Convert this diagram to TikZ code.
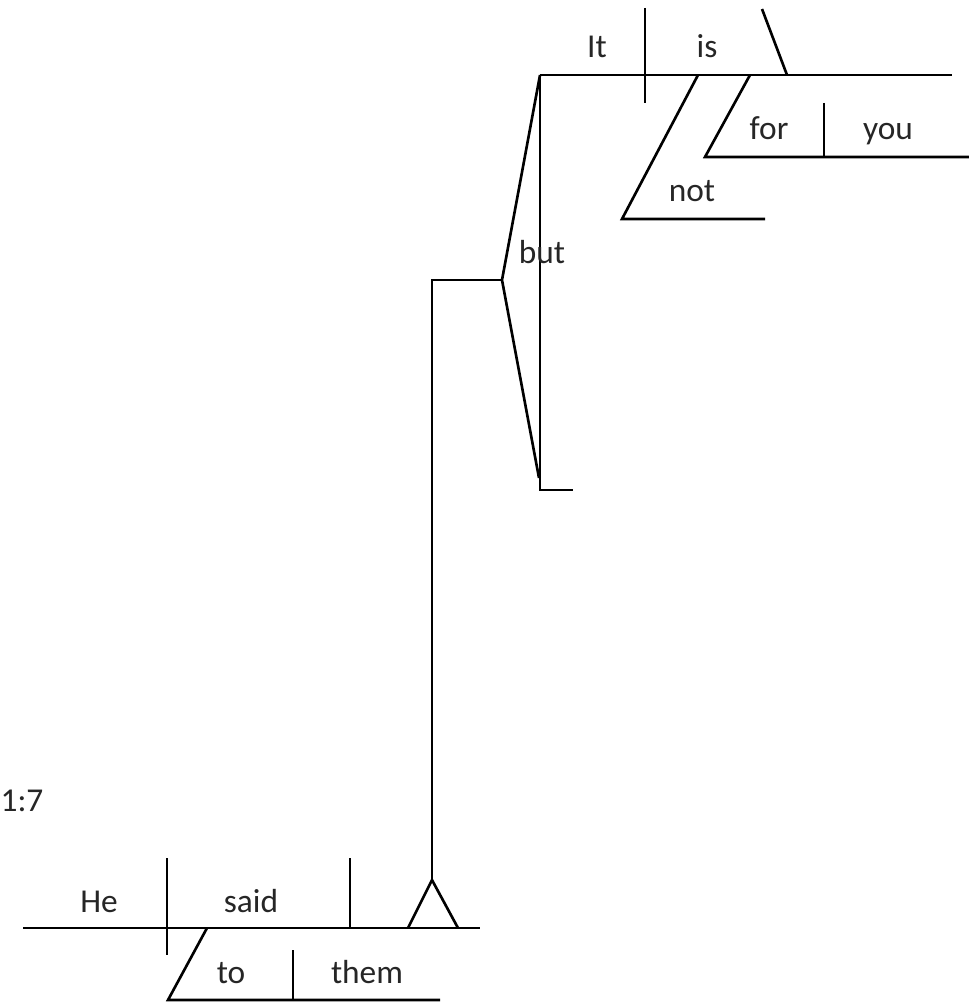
\documentclass[tikz,border=0pt]{standalone}
\usepackage{fontspec}
\setmainfont{Carlito}
\begin{document}
\begin{tikzpicture}[x=0.02cm,y=-0.02cm,
  ln/.style={line width=1.5pt,line cap=butt},
  wd/.style={font=\fontsize{19}{22}\selectfont,anchor=base,inner sep=0pt,text=black!85}]
\useasboundingbox (0,0) rectangle (969,1003);
% ---- bottom clause
\coordinate (bL) at (23,928); \coordinate (bR) at (480,928);
\coordinate (d1t) at (167,858); \coordinate (d1b) at (167,955);
\coordinate (d2t) at (350,858); \coordinate (d2b) at (350,928);
\coordinate (triA) at (432,880); \coordinate (triL) at (408,928); \coordinate (triR) at (458,928);
\coordinate (toT) at (207,928); \coordinate (toB) at (168,1000); \coordinate (toR) at (440,1000);
\coordinate (d3t) at (293,950); \coordinate (d3b) at (293,1000);
\draw[ln] (bL) -- (bR);
\draw[ln] (d1t) -- (d1b);
\draw[ln] (d2t) -- (d2b);
\draw[ln] (triL) -- (triA) -- (triR);
\draw[ln] (toT) -- (toB) -- (toR);
\draw[ln] (d3t) -- (d3b);
\node[wd] (he) at (99,912) {He};
\node[wd] (said) at (251,912) {said};
\node[wd] (to) at (231,983) {to};
\node[wd] (them) at (367,983) {them};
\node[wd] (ref) at (22,811) {1:7};
% ---- conjunction stem
\coordinate (stemT) at (432,280); \coordinate (butP) at (502,280);
\coordinate (cT) at (540,75); \coordinate (cB) at (540,490); \coordinate (cBR) at (573,490);
\coordinate (cBs) at (539,478);
\draw[ln] (triA) -- (stemT) -- (butP);
\draw[ln] (cT) -- (butP) -- (cBs);
\draw[ln] (cT) -- (cB) -- (cBR);
\node[wd] (but) at (542,264) {but};
% ---- top clause
\coordinate (tR) at (952,75);
\coordinate (d4t) at (645,8); \coordinate (d4b) at (645,103);
\coordinate (bsT) at (762,9); \coordinate (bsB) at (787,75);
\coordinate (notT) at (698,75); \coordinate (notB) at (622,219); \coordinate (notR) at (765,219);
\coordinate (forT) at (750,75); \coordinate (forB) at (705,157); \coordinate (forR) at (969,157);
\coordinate (d5t) at (824,103); \coordinate (d5b) at (824,157);
\draw[ln] (cT) -- (tR);
\draw[ln] (d4t) -- (d4b);
\draw[ln] (bsT) -- (bsB);
\draw[ln] (notT) -- (notB) -- (notR);
\draw[ln] (forT) -- (forB) -- (forR);
\draw[ln] (d5t) -- (d5b);
\node[wd] (it) at (597,58) {It};
\node[wd] (is) at (707,58) {is};
\node[wd] (for) at (769,140) {for};
\node[wd] (you) at (888,140) {you};
\node[wd] (not) at (692,202) {not};
\end{tikzpicture}
\end{document}
